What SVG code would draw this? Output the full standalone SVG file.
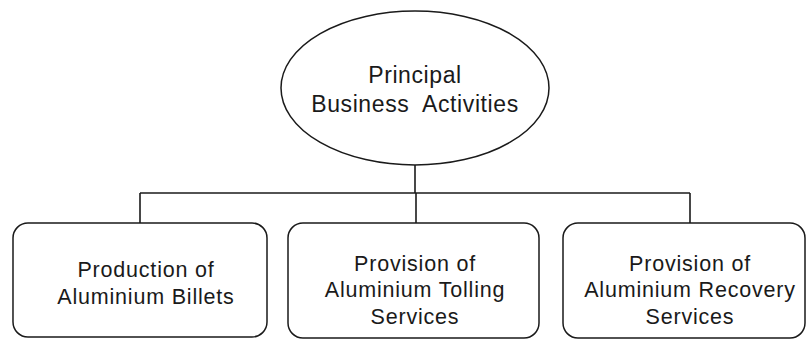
<svg xmlns="http://www.w3.org/2000/svg" width="808" height="341" viewBox="0 0 808 341">
  <style>
    .shape { fill: #ffffff; stroke: #1a1a1a; stroke-width: 1.5; }
    .wire { fill: none; stroke: #1a1a1a; stroke-width: 1.6; }
    .label { font-family: "Liberation Sans", Arial, sans-serif; fill: #1a1a1a; text-anchor: middle; }
    .big { font-size: 23px; letter-spacing: 0.6px; }
    .small { font-size: 21.5px; letter-spacing: 0.8px; }
  </style>
  <rect width="808" height="341" fill="#ffffff"/>

  <g id="connectors">
    <path class="wire" d="M415 165 V193"/>
    <path class="wire" d="M140 193 H690"/>
    <path class="wire" d="M140 193 V223"/>
    <path class="wire" d="M416 193 V223"/>
    <path class="wire" d="M690 193 V223"/>
  </g>

  <g id="principal">
    <ellipse class="shape" cx="415" cy="88" rx="134" ry="77"/>
    <text class="label big" x="415" y="83">Principal</text>
    <text class="label big" x="415" y="112" xml:space="preserve">Business  Activities</text>
  </g>

  <g id="billets">
    <rect class="shape" x="13" y="223" width="254" height="114" rx="15" ry="15"/>
    <text class="label small" x="146" y="277">Production of</text>
    <text class="label small" x="146" y="304">Aluminium Billets</text>
  </g>

  <g id="tolling">
    <rect class="shape" x="288" y="223" width="251" height="115" rx="15" ry="15"/>
    <text class="label small" x="415" y="271">Provision of</text>
    <text class="label small" x="415" y="297">Aluminium Tolling</text>
    <text class="label small" x="415" y="324">Services</text>
  </g>

  <g id="recovery">
    <rect class="shape" x="563" y="223" width="242" height="115" rx="15" ry="15"/>
    <text class="label small" x="690" y="271">Provision of</text>
    <text class="label small" x="690" y="297">Aluminium Recovery</text>
    <text class="label small" x="690" y="324">Services</text>
  </g>
</svg>
